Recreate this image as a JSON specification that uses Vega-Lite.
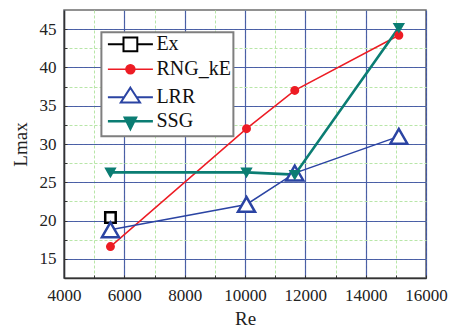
{
  "$schema": "https://vega.github.io/schema/vega-lite/v6.json",
  "width": 362,
  "height": 268,
  "autosize": {"type": "none"},
  "padding": {"left": 64, "top": 10, "right": 26, "bottom": 53},
  "background": "white",
  "data": {
    "values": [
      {"series": "Ex", "Re": 5540, "Lmax": 20.4},
      {"series": "RNG_kE", "Re": 5540, "Lmax": 16.6},
      {"series": "RNG_kE", "Re": 10050, "Lmax": 32.0},
      {"series": "RNG_kE", "Re": 11650, "Lmax": 37.0},
      {"series": "RNG_kE", "Re": 15100, "Lmax": 44.2},
      {"series": "LRR", "Re": 5540, "Lmax": 18.8},
      {"series": "LRR", "Re": 10050, "Lmax": 22.1},
      {"series": "LRR", "Re": 11650, "Lmax": 26.2},
      {"series": "LRR", "Re": 15100, "Lmax": 31.0},
      {"series": "SSG", "Re": 5540, "Lmax": 26.3},
      {"series": "SSG", "Re": 10050, "Lmax": 26.3},
      {"series": "SSG", "Re": 11650, "Lmax": 26.0},
      {"series": "SSG", "Re": 15100, "Lmax": 45.2}
    ]
  },
  "config": {
    "view": {"stroke": "#6e6e6e", "strokeWidth": 1.5},
    "axis": {
      "labelFont": "Liberation Serif",
      "labelFontSize": 17,
      "labelColor": "#222222",
      "titleFont": "Liberation Serif",
      "titleFontSize": 19,
      "titleFontWeight": "normal",
      "titleColor": "#222222",
      "domainColor": "#333333",
      "domainWidth": 1.5,
      "tickColor": "#333333",
      "labelFlush": false,
      "labelOverlap": false,
      "labelBound": false
    },
    "legend": {"strokeWidth": 2}
  },
  "resolve": {
    "axis": {"x": "independent", "y": "independent"},
    "scale": {"stroke": "independent", "fill": "independent", "shape": "independent", "size": "independent", "strokeWidth": "independent"}
  },
  "layer": [
    {
      "mark": {"type": "line", "clip": true},
      "encoding": {
        "x": {
          "field": "Re", "type": "quantitative",
          "scale": {"domain": [4000, 16000], "nice": false, "zero": false},
          "axis": {"orient": "bottom", "values": [5000, 7000, 9000, 11000, 13000, 15000, 4000, 6000, 8000, 10000, 12000, 14000, 16000],
            "grid": true, "gridColor": "#b8e6a8", "gridDash": [3, 2], "gridWidth": 1,
            "labels": false, "domain": false, "ticks": true, "tickSize": -3, "tickWidth": 1, "title": null}
        },
        "y": {
          "field": "Lmax", "type": "quantitative",
          "scale": {"domain": [12.5, 47.5], "nice": false, "zero": false},
          "axis": {"orient": "left", "values": [17.5, 22.5, 27.5, 32.5, 37.5, 42.5, 15, 20, 25, 30, 35, 40, 45],
            "grid": true, "gridColor": "#b8e6a8", "gridDash": [3, 2], "gridWidth": 1,
            "labels": false, "domain": false, "ticks": true, "tickSize": -3, "tickWidth": 1, "title": null}
        },
        "stroke": {
          "field": "series", "type": "nominal",
          "scale": {"domain": ["Ex", "RNG_kE", "LRR", "SSG"], "range": ["#000000", "#ed1c24", "#2b44a3", "#0b7d73"]},
          "legend": null
        },
        "strokeWidth": {
          "field": "series", "type": "nominal",
          "scale": {"type": "ordinal", "domain": ["Ex", "RNG_kE", "LRR", "SSG"], "range": [1.5, 1.5, 1.5, 2.6]},
          "legend": null
        }
      }
    },
    {
      "mark": {"type": "point", "strokeWidth": 2.5, "opacity": 1, "filled": false},
      "encoding": {
        "x": {
          "field": "Re", "type": "quantitative",
          "scale": {"domain": [4000, 16000], "nice": false, "zero": false},
          "axis": {"orient": "bottom", "values": [4000, 6000, 8000, 10000, 12000, 14000, 16000], "format": "d",
            "labelFont": "Liberation Serif", "labelFontSize": 17,
            "grid": true, "gridColor": "#3346a0", "gridOpacity": 0.85, "gridWidth": 1.2,
            "ticks": false, "labelPadding": 9, "title": "Re", "titlePadding": 6}
        },
        "y": {
          "field": "Lmax", "type": "quantitative",
          "scale": {"domain": [12.5, 47.5], "nice": false, "zero": false},
          "axis": {"orient": "left", "values": [15, 20, 25, 30, 35, 40, 45], "format": "d",
            "labelFont": "Liberation Serif", "labelFontSize": 17,
            "grid": true, "gridColor": "#3346a0", "gridOpacity": 0.85, "gridWidth": 1.2,
            "ticks": false, "labelPadding": 8, "title": "Lmax", "titlePadding": 9}
        },
        "stroke": {
          "field": "series", "type": "nominal",
          "scale": {"domain": ["Ex", "RNG_kE", "LRR", "SSG"], "range": ["#000000", "#ed1c24", "#2b44a3", "#0b7d73"]},
          "legend": null
        },
        "fill": {
          "field": "series", "type": "nominal",
          "scale": {"domain": ["Ex", "RNG_kE", "LRR", "SSG"], "range": ["#ffffff", "#ed1c24", "#ffffff", "#0b7d73"]},
          "legend": null
        },
        "size": {
          "field": "series", "type": "nominal",
          "scale": {"type": "ordinal", "domain": ["Ex", "RNG_kE", "LRR", "SSG"], "range": [110, 42, 290, 64]},
          "legend": null
        },
        "shape": {
          "field": "series", "type": "nominal",
          "scale": {"domain": ["Ex", "RNG_kE", "LRR", "SSG"], "range": ["square", "circle", "triangle-up", "triangle-down"]},
          "legend": null
        }
      }
    },
    {
      "transform": [{"filter": "datum.Lmax > 1000"}],
      "mark": {"type": "point", "opacity": 1, "filled": false},
      "encoding": {
        "x": {"field": "Re", "type": "quantitative", "scale": {"domain": [4000, 16000], "nice": false, "zero": false}, "axis": null},
        "y": {"field": "Lmax", "type": "quantitative", "scale": {"domain": [12.5, 47.5], "nice": false, "zero": false}, "axis": null},
        "stroke": {
          "field": "series", "type": "nominal",
          "scale": {"domain": ["Ex", "RNG_kE", "LRR", "SSG"], "range": ["#000000", "#ed1c24", "#2b44a3", "#0b7d73"]}
        },
        "fill": {
          "field": "series", "type": "nominal",
          "scale": {"domain": ["Ex", "RNG_kE", "LRR", "SSG"], "range": ["#ffffff", "#ed1c24", "#ffffff", "#0b7d73"]}
        },
        "strokeWidth": {
          "field": "series", "type": "nominal",
          "scale": {"type": "ordinal", "domain": ["Ex", "RNG_kE", "LRR", "SSG"], "range": [2, 1.5, 2, 2.6]}
        },
        "shape": {
          "field": "series", "type": "nominal",
          "scale": {"domain": ["Ex", "RNG_kE", "LRR", "SSG"], "range": [
            "M-3.75,0H-1.15M1.15,0H3.75M-1.15,-1.15H1.15V1.15H-1.15Z",
            "M-3.75,0H3.75M-0.75,0A0.75,0.75 0 1 0 0.75,0A0.75,0.75 0 1 0 -0.75,0Z",
            "M-3.75,0H-1.05M1.05,0H3.75M0,-1.6L1.6,0.85H-1.6Z",
            "M-3.75,0H3.75M-0.9,-0.6H0.9L0,1.2Z"
          ]},
          "legend": {
            "orient": "none", "legendX": 37.4, "legendY": 22.3, "title": null,
            "padding": 2, "symbolSize": 144, "symbolOffset": 17, "labelOffset": 16,
            "labelFont": "Liberation Serif", "labelFontSize": 20, "labelColor": "#111111",
            "rowPadding": 4, "strokeColor": "#7f7f7f", "fillColor": "#ffffff",
            "symbolOpacity": 1
          }
        }
      }
    }
  ]
}
